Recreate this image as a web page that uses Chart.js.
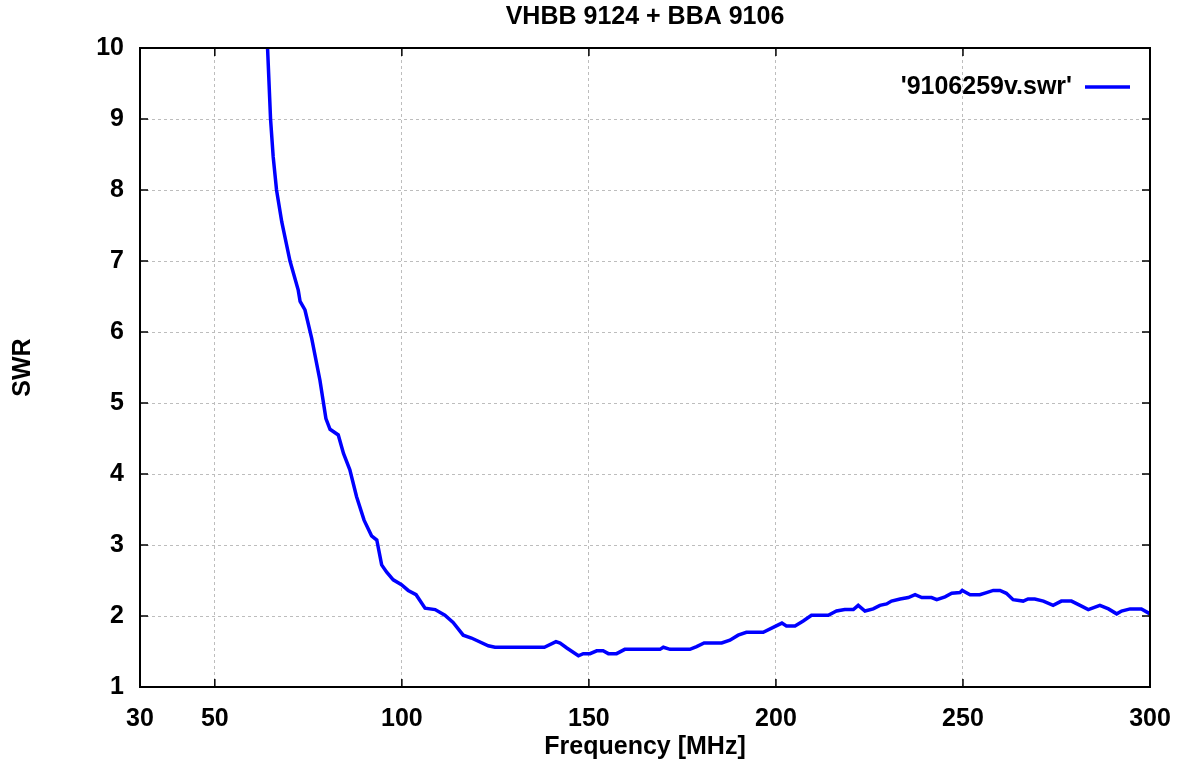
<!DOCTYPE html>
<html>
<head>
<meta charset="utf-8">
<script src="https://cdn.jsdelivr.net/npm/chart.js@4/dist/chart.umd.min.js"></script>
<style>
  html, body { margin: 0; padding: 0; background: #fff; }
  #wrap { width: 1180px; height: 769px; }
</style>
</head>
<body>
<div id="wrap"><canvas id="myChart"></canvas></div>
<script>
// measured curve, frequency in MHz vs SWR
const freq = [64.1, 64.9, 65.6, 66.5, 67.9, 70.1, 72.3, 72.8, 74.1, 75.9, 78.1, 79.7, 80.8, 83.0, 84.4,
  86.1, 87.9, 89.9, 91.9, 93.3, 94.6, 95.9, 97.7, 99.9, 101.7, 103.8, 106.2, 108.9, 111.5, 113.7,
  116.4, 118.6, 123.1, 124.9, 138.1, 141.2, 142.3, 144.1, 147.2, 148.5, 150.3, 152.1, 153.8, 155.2,
  157.4, 159.6, 169.0, 169.9, 171.7, 177.0, 178.8, 180.8, 185.5, 187.7, 189.9, 192.1, 196.6, 201.6,
  202.8, 205.1, 207.3, 209.5, 214.0, 216.2, 218.4, 220.7, 222.0, 223.8, 226.0, 227.8, 229.6, 230.9,
  233.2, 235.4, 237.2, 239.0, 241.6, 243.0, 245.2, 247.0, 249.2, 249.8, 251.9, 254.5, 256.3, 258.1,
  259.9, 261.6, 263.4, 266.1, 267.4, 269.2, 271.5, 274.1, 276.3, 279.0, 281.3, 283.5, 286.6, 288.9,
  291.1, 292.4, 294.7, 297.7, 300.0]
const swr = [10.0, 9.0, 8.47, 8.0, 7.55, 7.0, 6.59, 6.43, 6.31, 5.91, 5.32, 4.78, 4.63, 4.55, 4.29,
  4.06, 3.68, 3.35, 3.13, 3.07, 2.72, 2.62, 2.51, 2.44, 2.36, 2.30, 2.11, 2.09, 2.01, 1.91,
  1.73, 1.69, 1.58, 1.56, 1.56, 1.64, 1.62, 1.55, 1.44, 1.47, 1.47, 1.51, 1.51, 1.47,
  1.47, 1.53, 1.53, 1.56, 1.53, 1.53, 1.57, 1.62, 1.62, 1.66, 1.73, 1.77, 1.77, 1.90,
  1.86, 1.86, 1.93, 2.01, 2.01, 2.07, 2.09, 2.09, 2.15, 2.07, 2.10, 2.15, 2.17, 2.21,
  2.24, 2.26, 2.30, 2.26, 2.26, 2.23, 2.27, 2.32, 2.33, 2.36, 2.30, 2.30, 2.33, 2.36,
  2.36, 2.32, 2.23, 2.21, 2.24, 2.24, 2.21, 2.15, 2.21, 2.21, 2.15, 2.09, 2.15, 2.10,
  2.03, 2.07, 2.10, 2.10, 2.03]
const xTicks = [30, 50, 100, 150, 200, 250, 300]
const yTicks = [1, 2, 3, 4, 5, 6, 7, 8, 9, 10]
const seriesLabel = "'9106259v.swr'"
const chartTitle = 'VHBB 9124 + BBA 9106'

const FONT = "'Liberation Sans', Arial, sans-serif"

// gnuplot style frame with inward ticks on all four sides, title over the plot, legend inside
const framePlugin = {
  id: 'frame',
  afterDatasetsDraw(chart) {
    const ctx = chart.ctx
    const a = chart.chartArea
    const xs = chart.scales.x, ys = chart.scales.y
    ctx.save()
    ctx.strokeStyle = '#000'
    ctx.lineWidth = 1.5
    ctx.beginPath()
    xTicks.forEach(v => {
      const p = xs.getPixelForValue(v)
      ctx.moveTo(p, a.bottom); ctx.lineTo(p, a.bottom - 8)
      ctx.moveTo(p, a.top); ctx.lineTo(p, a.top + 8)
    })
    yTicks.forEach(v => {
      const p = ys.getPixelForValue(v)
      ctx.moveTo(a.left, p); ctx.lineTo(a.left + 8, p)
      ctx.moveTo(a.right, p); ctx.lineTo(a.right - 8, p)
    })
    ctx.stroke()
    ctx.lineWidth = 2
    ctx.strokeRect(a.left, a.top, a.right - a.left, a.bottom - a.top)

    ctx.font = 'bold 25px ' + FONT
    ctx.fillStyle = '#000'
    ctx.textBaseline = 'middle'

    // title, centred over the plot area
    ctx.textAlign = 'center'
    ctx.fillText(chartTitle, (a.left + a.right) / 2, 17)

    // legend
    const ds = chart.data.datasets[0]
    ctx.textAlign = 'right'
    ctx.fillText(ds.label, a.right - 78, a.top + 39)
    ctx.strokeStyle = ds.borderColor
    ctx.lineWidth = ds.borderWidth
    ctx.beginPath()
    ctx.moveTo(a.right - 65, a.top + 39)
    ctx.lineTo(a.right - 20, a.top + 39)
    ctx.stroke()
    ctx.restore()
  }
}

const ctx = document.getElementById('myChart').getContext('2d')
const myChart = new Chart(ctx, {
  type: 'line',
  data: {
    datasets: [{
      label: seriesLabel,
      data: freq.map((f, i) => ({ x: f, y: swr[i] })),
      borderColor: '#0000ff',
      borderWidth: 3.5,
      pointRadius: 0,
      fill: false,
      tension: 0
    }]
  },
  options: {
    responsive: true,
    maintainAspectRatio: false,
    animation: false,
    layout: { padding: { left: 0, right: 30, top: 48, bottom: 0 } },
    plugins: {
      legend: { display: false },
      tooltip: { enabled: false },
      title: { display: false }
    },
    scales: {
      x: {
        type: 'linear',
        min: 30,
        max: 300,
        afterBuildTicks: scale => { scale.ticks = xTicks.map(v => ({ value: v })) },
        afterFit: scale => {
          scale.height = 82
          scale.paddingLeft = 0
          scale.paddingRight = 0
        },
        grid: {
          color: '#bdbdbd',
          lineWidth: 1,
          drawTicks: false
        },
        border: { display: false, dash: [3, 3] },
        ticks: {
          color: '#000',
          padding: 17,
          maxRotation: 0,
          autoSkip: false,
          font: { family: FONT, size: 25, weight: 'bold' }
        },
        title: {
          display: true,
          text: 'Frequency [MHz]',
          color: '#000',
          font: { family: FONT, size: 25, weight: 'bold' },
          padding: { top: 0, bottom: 6.5 }
        }
      },
      y: {
        min: 1,
        max: 10,
        afterBuildTicks: scale => { scale.ticks = yTicks.map(v => ({ value: v })) },
        afterFit: scale => {
          scale.width = 140
          scale.paddingTop = 0
          scale.paddingBottom = 0
        },
        grid: {
          color: '#bdbdbd',
          lineWidth: 1,
          drawTicks: false
        },
        border: { display: false, dash: [3, 3] },
        ticks: {
          color: '#000',
          padding: 16,
          font: { family: FONT, size: 25, weight: 'bold' }
        },
        title: {
          display: true,
          text: 'SWR',
          color: '#000',
          font: { family: FONT, size: 25, weight: 'bold' },
          padding: { top: 8, bottom: 0 }
        }
      }
    }
  },
  plugins: [framePlugin]
})
</script>
</body>
</html>
